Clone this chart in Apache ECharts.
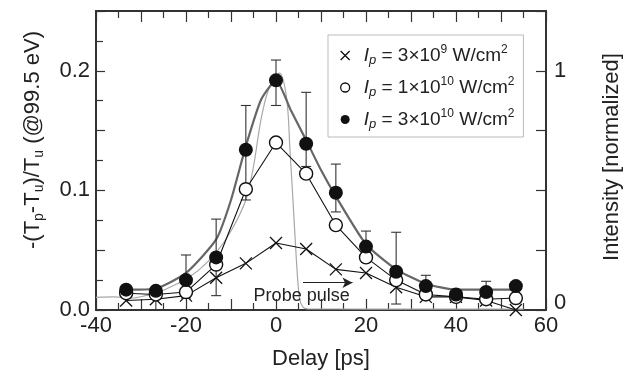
<!DOCTYPE html>
<html>
<head>
<meta charset="utf-8">
<script src="https://cdn.jsdelivr.net/npm/echarts@6/dist/echarts.min.js"></script>
<style>
  html, body { margin: 0; padding: 0; background: #fff; }
  #main { width: 626px; height: 378px; }
</style>
</head>
<body>
<div id="main"></div>
<script>
const FONT = 'Liberation Sans, Arial, sans-serif'

// measured delays [ps]
const delay = [-33.3, -26.7, -20, -13.3, -6.7, 0, 6.7, 13.3, 20, 26.7, 33.3, 40, 46.7, 53.3]
// -(Tp-Tu)/Tu for each pump intensity
const crossVals = [0.008, 0.009, 0.012, 0.027, 0.039, 0.056, 0.051, 0.034, 0.031, 0.019, 0.011, 0.011, 0.008, 0.0]
const openVals = [0.014, 0.013, 0.015, 0.038, 0.101, 0.140, 0.114, 0.071, 0.044, 0.025, 0.013, 0.011, 0.009, 0.010]
const filledVals = [0.017, 0.016, 0.025, 0.044, 0.134, 0.192, 0.139, 0.098, 0.053, 0.032, 0.020, 0.013, 0.015, 0.020]
// error bars of the 3e10 data (null = none visible)
const errLow = [null, 0.0, 0.010, 0.012, 0.092, 0.171, 0.120, 0.082, 0.040, 0.005, 0.012, null, 0.008, null]
const errHigh = [null, 0.018, 0.046, 0.076, 0.171, 0.209, 0.182, 0.122, 0.066, 0.065, 0.029, null, 0.024, null]

// fitted curve through the 3e10 data
const fitDelay = [-33.3, -26.7, -20, -13.3, -10, -6.7, -3.3, 0, 3.3, 6.7, 10, 13.3, 20, 26.7, 33.3, 40, 46.7, 53.3]
const fitVals = [0.017, 0.018, 0.031, 0.059, 0.092, 0.137, 0.176, 0.192, 0.167, 0.142, 0.117, 0.095, 0.055, 0.034, 0.022, 0.017, 0.017, 0.017]

// probe pulse intensity (right axis, normalized)
const probeDelay = [-40, -36, -32, -29, -26, -23, -20, -17, -13.3, -10, -6.7, -5, -3.3, -1.5, 0.8, 2.4, 3.1, 3.8, 4.5, 5.2, 6, 7, 20, 55]
const probeVals = [0.053, 0.055, 0.05, 0.06, 0.075, 0.10, 0.13, 0.17, 0.24, 0.33, 0.46, 0.60, 0.80, 0.93, 0.99, 0.88, 0.67, 0.45, 0.22, 0.05, 0.012, 0.005, 0.004, 0.004]

const xTickLabels = [-40, -20, 0, 20, 40, 60]
const yTickLabels = [0, 0.1, 0.2]
const rightTickLabels = [0, 1]

const names = ['I3e9', 'I1e10', 'I3e10']
const legendText = {
  I3e9: '{i|I}{s|p} = 3×10{p|9} W/cm{p|2}',
  I1e10: '{i|I}{s|p} = 1×10{p|10} W/cm{p|2}',
  I3e10: '{i|I}{s|p} = 3×10{p|10} W/cm{p|2}'
}

const pairs = (xs, ys) => xs.map((x, i) => [x, ys[i]])
const crossPath = 'path://M0,0L10,10M10,0L0,10'

const chart = echarts.init(document.getElementById('main'), null, { renderer: 'canvas' })

const axisLine = { show: true, onZero: false, lineStyle: { color: '#333', width: 2 } }
const tickStyle = { color: '#333', width: 1.2 }

const option = {
  animation: false,
  backgroundColor: '#fff',
  textStyle: { fontFamily: FONT },
  grid: { left: 96, right: 80, top: 11, bottom: 68 },
  legend: {
    orient: 'vertical',
    left: 328,
    top: 35,
    padding: [9, 9, 6, 12],
    itemGap: 9,
    itemWidth: 9,
    itemHeight: 9,
    backgroundColor: '#fff',
    borderColor: '#bbb',
    borderWidth: 1,
    formatter: n => legendText[n],
    textStyle: {
      fontFamily: FONT,
      fontSize: 19,
      color: '#222',
      padding: [0, 0, 0, 9],
      lineHeight: 23,
      rich: {
        i: { fontStyle: 'italic', fontSize: 19, fontFamily: FONT, color: '#222' },
        s: { fontStyle: 'italic', fontSize: 13, lineHeight: 13, verticalAlign: 'bottom', fontFamily: FONT, color: '#222' },
        p: { fontSize: 12, lineHeight: 12, verticalAlign: 'top', fontFamily: FONT, color: '#222' }
      }
    },
    data: [
      { name: names[0], icon: crossPath, itemStyle: { color: 'transparent', borderColor: '#111', borderWidth: 1.3 } },
      { name: names[1], icon: 'circle', itemStyle: { color: '#fff', borderColor: '#111', borderWidth: 1.3 } },
      { name: names[2], icon: 'circle', itemStyle: { color: '#111', borderColor: '#111', borderWidth: 0 } }
    ]
  },
  xAxis: [
    {
      type: 'value', min: -40, max: 60, interval: 10, position: 'bottom',
      axisLine: axisLine,
      axisTick: { show: true, inside: true, length: 11, lineStyle: tickStyle },
      minorTick: { show: true, splitNumber: 2, length: 7, lineStyle: tickStyle },
      splitLine: { show: false },
      axisLabel: {
        formatter: v => (xTickLabels.includes(v) ? String(v) : ''),
        fontSize: 22, color: '#222', margin: 5, fontFamily: FONT
      },
      name: 'Delay [ps]', nameLocation: 'middle', nameGap: 38,
      nameTextStyle: { fontSize: 22, color: '#222', fontFamily: FONT }
    },
    {
      type: 'value', min: -40, max: 60, interval: 10, position: 'top',
      axisLine: axisLine,
      axisTick: { show: true, inside: true, length: 11, lineStyle: tickStyle },
      minorTick: { show: true, splitNumber: 2, length: 7, lineStyle: tickStyle },
      splitLine: { show: false },
      axisLabel: { show: false }
    }
  ],
  yAxis: [
    {
      type: 'value', min: 0, max: 0.25, interval: 0.05, position: 'left',
      axisLine: axisLine,
      axisTick: { show: true, inside: true, length: 9, lineStyle: tickStyle },
      minorTick: { show: true, splitNumber: 2, length: 7, lineStyle: tickStyle },
      splitLine: { show: false },
      axisLabel: {
        formatter: v => {
          const hit = yTickLabels.find(t => Math.abs(t - v) < 1e-6)
          return hit === undefined ? '' : hit.toFixed(1)
        },
        fontSize: 22, color: '#222', margin: 6, fontFamily: FONT
      }
    },
    {
      type: 'value', min: 0, max: 1.25, interval: 0.25, position: 'right',
      axisLine: axisLine,
      axisTick: { show: true, inside: true, length: 10, lineStyle: tickStyle },
      splitLine: { show: false },
      axisLabel: {
        formatter: v => {
          const hit = rightTickLabels.find(t => Math.abs(t - v) < 1e-6)
          if (hit === undefined) return ''
          return hit === 0 ? '{z|0}' : String(hit)
        },
        fontSize: 22, color: '#222', margin: 8, fontFamily: FONT,
        rich: { z: { fontSize: 22, color: '#222', fontFamily: FONT, padding: [0, 0, 14, 0] } }
      }
    }
  ],
  series: [
    {
      name: 'probe',
      type: 'line',
      yAxisIndex: 1,
      data: pairs(probeDelay, probeVals),
      showSymbol: false,
      smooth: 0.3,
      lineStyle: { color: '#a8a8a8', width: 1.2 },
      z: 1,
      silent: true
    },
    {
      name: 'fit',
      type: 'line',
      data: pairs(fitDelay, fitVals),
      showSymbol: false,
      smooth: 0.2,
      lineStyle: { color: '#666', width: 2.2 },
      z: 2,
      silent: true,
      markLine: {
        silent: true,
        symbol: ['none', 'arrow'],
        symbolSize: [8, 10],
        lineStyle: { color: '#222', width: 1, type: 'solid' },
        label: { show: false },
        data: [[{ coord: [6, 0.0228] }, { coord: [17, 0.0228] }]]
      }
    },
    {
      name: 'err',
      type: 'custom',
      data: delay.map((d, i) => [d, errLow[i], errHigh[i]]).filter(r => r[1] !== null),
      encode: { x: 0, y: [1, 2] },
      z: 3,
      silent: true,
      renderItem: (params, api) => {
        const lo = api.coord([api.value(0), api.value(1)])
        const hi = api.coord([api.value(0), api.value(2)])
        const w = 5
        const st = { stroke: '#333', lineWidth: 1.1 }
        return {
          type: 'group',
          children: [
            { type: 'line', shape: { x1: lo[0], y1: lo[1], x2: hi[0], y2: hi[1] }, style: st },
            { type: 'line', shape: { x1: hi[0] - w, y1: hi[1], x2: hi[0] + w, y2: hi[1] }, style: st },
            { type: 'line', shape: { x1: lo[0] - w, y1: lo[1], x2: lo[0] + w, y2: lo[1] }, style: st }
          ]
        }
      }
    },
    {
      name: names[0],
      type: 'line',
      data: pairs(delay, crossVals),
      symbol: crossPath,
      symbolSize: 12,
      itemStyle: { color: 'transparent', borderColor: '#111', borderWidth: 1.3 },
      lineStyle: { color: '#111', width: 1.1 },
      z: 4
    },
    {
      name: names[1],
      type: 'line',
      data: pairs(delay, openVals),
      symbol: 'circle',
      symbolSize: 13,
      itemStyle: { color: '#fff', borderColor: '#111', borderWidth: 1.4 },
      lineStyle: { color: '#111', width: 1.1 },
      z: 5
    },
    {
      name: names[2],
      type: 'scatter',
      data: pairs(delay, filledVals),
      symbol: 'circle',
      symbolSize: 14,
      itemStyle: { color: '#111', opacity: 1 },
      z: 6
    }
  ]
}

chart.setOption(option)

const probeLabelAt = chart.convertToPixel({ gridIndex: 0 }, [5.7, 0.0113])
chart.setOption({
  graphic: [
    {
      type: 'text', x: probeLabelAt[0], y: probeLabelAt[1], z: 10,
      style: { text: 'Probe pulse', font: '18px ' + FONT, fill: '#222', align: 'center', verticalAlign: 'middle' }
    },
    {
      type: 'text', x: 33, y: 140, rotation: Math.PI / 2, z: 10,
      style: {
        text: '-(T{s|p}-T{s|u})/T{s|u} (@99.5 eV)',
        font: '22px ' + FONT, fill: '#222', align: 'center', verticalAlign: 'middle',
        lineHeight: 26,
        rich: {
          s: { fontSize: 14, lineHeight: 14, verticalAlign: 'bottom', fontFamily: FONT, fill: '#222' }
        }
      }
    },
    {
      type: 'text', x: 612, y: 157, rotation: Math.PI / 2, z: 10,
      style: { text: 'Intensity [normalized]', font: '22px ' + FONT, fill: '#222', align: 'center', verticalAlign: 'middle' }
    }
  ]
})
</script>
</body>
</html>
